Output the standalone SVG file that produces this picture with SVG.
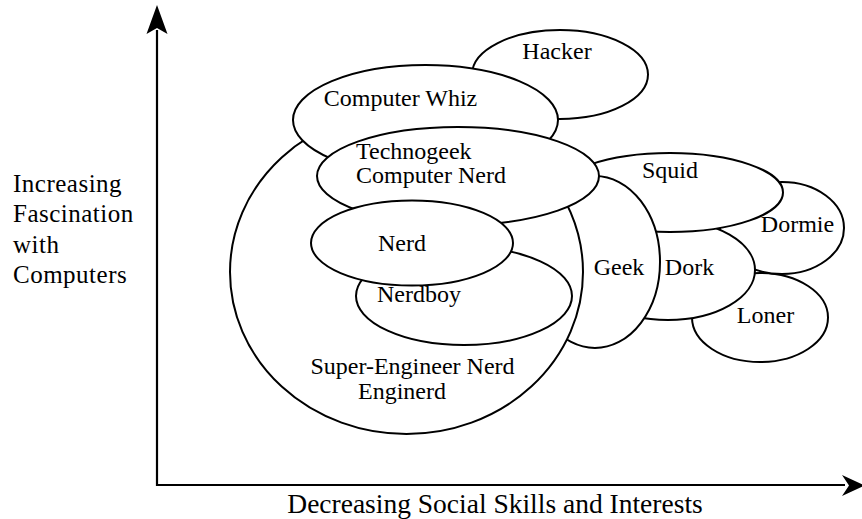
<svg xmlns="http://www.w3.org/2000/svg" width="862" height="519" viewBox="0 0 862 519">
<style>
.e{fill:#fff;stroke:#000;stroke-width:2}
.t{font-family:"Liberation Serif","Times New Roman",serif;font-size:24px;fill:#000}
.m{text-anchor:middle}
.side{font-size:25px;letter-spacing:0.5px}
.bottom{font-size:27.5px}
.ax{stroke:#000;stroke-width:2.2;fill:none}
.ah{fill:#000;stroke:none}
</style>
<rect width="862" height="519" fill="#fff"/>
<g id="axes">
<path class="ax" d="M157,30 V485 H845"/>
<polygon class="ah" points="157,5 167.5,34 157,28 146.5,34"/>
<polygon class="ah" points="865,485.5 842,475 849,485.5 842,496"/>
</g>
<g id="loner"><ellipse class="e" cx="760" cy="317.5" rx="68" ry="44.5"/><text class="t m" x="765.5" y="323">Loner</text></g>
<g id="dormie"><ellipse class="e" cx="782" cy="228" rx="62" ry="46"/><text class="t m" x="797.5" y="232">Dormie</text></g>
<g id="dork"><ellipse class="e" cx="668" cy="270" rx="87" ry="50"/><text class="t m" x="689.5" y="275">Dork</text></g>
<g id="squid"><ellipse class="e" cx="670" cy="192.5" rx="113" ry="39.5"/><text class="t m" x="670" y="178">Squid</text></g>
<g id="geek"><ellipse class="e" cx="595" cy="262" rx="65" ry="86"/><text class="t m" x="619" y="275">Geek</text></g>
<g id="hacker"><ellipse class="e" cx="560" cy="74.5" rx="88" ry="44.5"/><text class="t m" x="557" y="59">Hacker</text></g>
<g id="super-engineer-nerd"><ellipse class="e" cx="406.5" cy="272" rx="176.5" ry="162"/><text class="t m" x="412.5" y="374">Super-Engineer Nerd</text><text class="t m" x="402" y="399">Enginerd</text></g>
<g id="computer-whiz"><ellipse class="e" cx="425.5" cy="120" rx="132.5" ry="55"/><text class="t m" x="400.5" y="106">Computer Whiz</text></g>
<g id="technogeek"><ellipse class="e" cx="458" cy="176" rx="141" ry="49"/><text class="t" x="356" y="159">Technogeek</text><text class="t" x="356" y="183">Computer Nerd</text></g>
<g id="nerdboy"><ellipse class="e" cx="464" cy="296" rx="108" ry="49"/><text class="t m" x="419" y="302">Nerdboy</text></g>
<g id="nerd"><ellipse class="e" cx="412" cy="243" rx="101" ry="42.5"/><text class="t m" x="402" y="251">Nerd</text></g>
<g id="labels">
<text class="t side" x="13" y="192">Increasing</text>
<text class="t side" x="13" y="222">Fascination</text>
<text class="t side" x="13" y="253">with</text>
<text class="t side" x="13" y="283">Computers</text>
<text class="t m bottom" x="495" y="513">Decreasing Social Skills and Interests</text>
</g>
</svg>
